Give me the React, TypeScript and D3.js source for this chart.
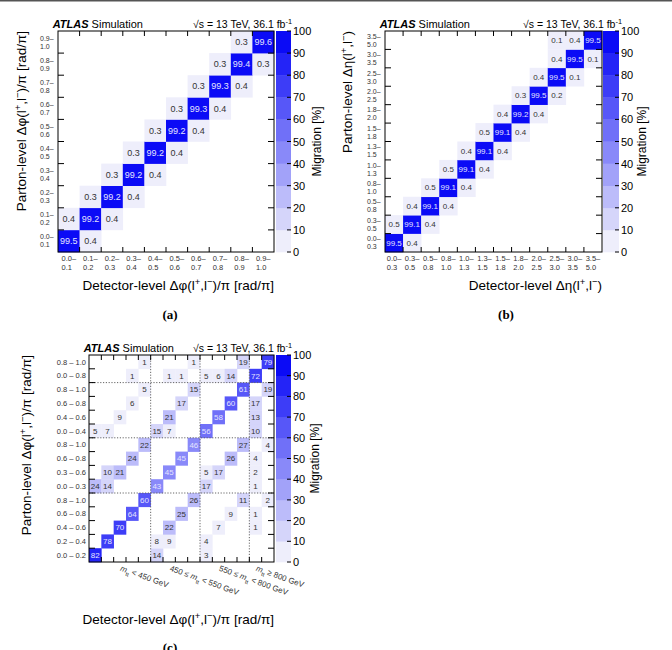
import { useEffect, useRef } from "react"
import * as d3 from "d3"

type Cell = [number, number, number] // [detector bin, parton bin, migration %]
type Part = [string, string?]

// (a) Δφ(l+,l-)/π bins
const phiBinsA = ["0.0–0.1", "0.1–0.2", "0.2–0.3", "0.3–0.4", "0.4–0.5", "0.5–0.6", "0.6–0.7", "0.7–0.8", "0.8–0.9", "0.9–1.0"]
const migrationA: Cell[] = [
  [0, 0, 99.5], [1, 0, 0.4],
  [0, 1, 0.4], [1, 1, 99.2], [2, 1, 0.4],
  [1, 2, 0.3], [2, 2, 99.2], [3, 2, 0.4],
  [2, 3, 0.3], [3, 3, 99.2], [4, 3, 0.4],
  [3, 4, 0.3], [4, 4, 99.2], [5, 4, 0.4],
  [4, 5, 0.3], [5, 5, 99.2], [6, 5, 0.4],
  [5, 6, 0.3], [6, 6, 99.3], [7, 6, 0.4],
  [6, 7, 0.3], [7, 7, 99.3], [8, 7, 0.4],
  [7, 8, 0.3], [8, 8, 99.4], [9, 8, 0.3],
  [8, 9, 0.3], [9, 9, 99.6],
]

// (b) Δη(l+,l-) bins
const etaBinsB = ["0.0–0.3", "0.3–0.5", "0.5–0.8", "0.8–1.0", "1.0–1.3", "1.3–1.5", "1.5–1.8", "1.8–2.0", "2.0–2.5", "2.5–3.0", "3.0–3.5", "3.5–5.0"]
const migrationB: Cell[] = [
  [0, 0, 99.5], [1, 0, 0.4],
  [0, 1, 0.5], [1, 1, 99.1], [2, 1, 0.4],
  [1, 2, 0.4], [2, 2, 99.1], [3, 2, 0.4],
  [2, 3, 0.5], [3, 3, 99.1], [4, 3, 0.4],
  [3, 4, 0.5], [4, 4, 99.1], [5, 4, 0.4],
  [4, 5, 0.4], [5, 5, 99.1], [6, 5, 0.4],
  [5, 6, 0.5], [6, 6, 99.1], [7, 6, 0.4],
  [6, 7, 0.4], [7, 7, 99.2], [8, 7, 0.4],
  [7, 8, 0.3], [8, 8, 99.5], [9, 8, 0.2],
  [8, 9, 0.4], [9, 9, 99.5], [10, 9, 0.1],
  [9, 10, 0.4], [10, 10, 99.5], [11, 10, 0.1],
  [9, 11, 0.1], [10, 11, 0.4], [11, 11, 99.5],
]

// (c) Δφ bins inside m_tt bins
const phiBinsC = [
  "0.0 – 0.2", "0.2 – 0.4", "0.4 – 0.6", "0.6 – 0.8", "0.8 – 1.0",
  "0.0 – 0.3", "0.3 – 0.6", "0.6 – 0.8", "0.8 – 1.0",
  "0.0 – 0.4", "0.4 – 0.6", "0.6 – 0.8", "0.8 – 1.0",
  "0.0 – 0.8", "0.8 – 1.0",
]
const massBinSizes = [5, 4, 4, 2]
const massLabels: Part[][] = [
  [["m", "it"], ["tt", "sub"], [" < 450 GeV"]],
  [["450 ≤ "], ["m", "it"], ["tt", "sub"], [" < 550 GeV"]],
  [["550 ≤ "], ["m", "it"], ["tt", "sub"], [" < 800 GeV"]],
  [["m", "it"], ["tt", "sub"], [" ≥ 800 GeV"]],
]
const migrationC: Cell[] = [
  [0, 0, 82], [5, 0, 14], [9, 0, 3],
  [1, 1, 78], [5, 1, 8], [6, 1, 9], [9, 1, 4],
  [2, 2, 70], [6, 2, 22], [10, 2, 7], [13, 2, 1],
  [3, 3, 64], [7, 3, 25], [11, 3, 9], [13, 3, 1],
  [4, 4, 60], [8, 4, 26], [12, 4, 11], [14, 4, 2],
  [0, 5, 24], [1, 5, 14], [5, 5, 43], [9, 5, 17], [13, 5, 1],
  [1, 6, 10], [2, 6, 21], [6, 6, 45], [9, 6, 5], [10, 6, 17], [13, 6, 2],
  [3, 7, 24], [7, 7, 45], [11, 7, 26], [13, 7, 4],
  [4, 8, 22], [8, 8, 46], [12, 8, 27], [14, 8, 4],
  [0, 9, 5], [1, 9, 7], [5, 9, 15], [6, 9, 7], [9, 9, 56], [13, 9, 10],
  [2, 10, 9], [6, 10, 21], [10, 10, 58], [13, 10, 13],
  [3, 11, 6], [7, 11, 17], [11, 11, 60], [13, 11, 17],
  [4, 12, 5], [8, 12, 15], [12, 12, 61], [14, 12, 19],
  [3, 13, 1], [6, 13, 1], [7, 13, 1], [9, 13, 5], [10, 13, 6], [11, 13, 14], [13, 13, 72],
  [4, 14, 1], [8, 14, 1], [12, 14, 19], [14, 14, 79],
]

const migrationTicks = d3.range(0, 101, 10)

const FONT = "'Liberation Sans', Arial, Helvetica, sans-serif"
const palette = d3.quantize(d3.interpolateRgb("#eeeefb", "#0b0bf6"), 10)
const colour = d3.scaleQuantize<string>().domain([0, 100]).range(palette)

function rich(text: any, parts: Part[]) {
  parts.forEach(([s, kind]) => {
    const t = text.append("tspan").text(s)
    if (kind === "sup") t.attr("baseline-shift", "super").attr("font-size", "70%")
    if (kind === "sub") t.attr("baseline-shift", "sub").attr("font-size", "70%")
    if (kind === "it") t.attr("font-style", "italic")
  })
}

function drawPanel(svg: any, p: any) {
  const g = svg.append("g").attr("font-family", FONT)
  const x = d3.scaleBand<number>().domain(d3.range(p.nx)).range([p.left, p.right])
  const y = d3.scaleBand<number>().domain(d3.range(p.ny)).range([p.bottom, p.top])
  const bw = x.bandwidth()
  const bh = y.bandwidth()

  // cells
  g.selectAll("rect.cell")
    .data(p.cells)
    .join("rect")
    .attr("x", (d: Cell) => x(d[0]))
    .attr("y", (d: Cell) => y(d[1]))
    .attr("width", bw + 0.3)
    .attr("height", bh + 0.3)
    .attr("fill", (d: Cell) => colour(d[2]))

  g.selectAll("text.cell")
    .data(p.cells)
    .join("text")
    .attr("x", (d: Cell) => x(d[0])! + bw / 2)
    .attr("y", (d: Cell) => y(d[1])! + bh / 2 + p.cellFont * 0.36)
    .attr("text-anchor", "middle")
    .attr("font-size", p.cellFont)
    .attr("fill", (d: Cell) => (d[2] >= 40 ? "#e4e4ff" : "#333"))
    .text((d: Cell) => p.fmt(d[2]))

  // dotted group separators
  if (p.groups) {
    const edges = d3.cumsum(p.groups).slice(0, -1) as unknown as number[]
    edges.forEach((e: number) => {
      g.append("line")
        .attr("x1", x(e)).attr("x2", x(e))
        .attr("y1", p.top).attr("y2", p.bottom)
        .attr("stroke", "#666").attr("stroke-dasharray", "1.2,1.6")
      g.append("line")
        .attr("x1", p.left).attr("x2", p.right)
        .attr("y1", y(e)! + bh).attr("y2", y(e)! + bh)
        .attr("stroke", "#666").attr("stroke-dasharray", "1.2,1.6")
    })
  }

  // frame + ticks
  g.append("rect")
    .attr("x", p.left).attr("y", p.top)
    .attr("width", p.right - p.left).attr("height", p.bottom - p.top)
    .attr("fill", "none").attr("stroke", "#000")
  d3.range(1, p.nx).forEach((i) => {
    const xx = p.left + i * bw
    g.append("line").attr("x1", xx).attr("x2", xx).attr("y1", p.bottom).attr("y2", p.bottom - 5).attr("stroke", "#000")
    g.append("line").attr("x1", xx).attr("x2", xx).attr("y1", p.top).attr("y2", p.top + 5).attr("stroke", "#000")
  })
  d3.range(1, p.ny).forEach((j) => {
    const yy = p.bottom - j * bh
    g.append("line").attr("x1", p.left).attr("x2", p.left + 6).attr("y1", yy).attr("y2", yy).attr("stroke", "#000")
    g.append("line").attr("x1", p.right).attr("x2", p.right - 6).attr("y1", yy).attr("y2", yy).attr("stroke", "#000")
  })

  // tick labels
  if (p.twoLine) {
    p.xLabels.forEach((lab: string, i: number) => {
      const [a, b] = lab.split("–")
      const t = g.append("text").attr("font-size", 7.5).attr("fill", "#333")
      const cx = x(i)! + bw / 2 - 7.3
      t.append("tspan").attr("x", cx).attr("y", p.bottom + 9).text(a + "–")
      t.append("tspan").attr("x", cx).attr("y", p.bottom + 18).text(b)
    })
    p.yLabels.forEach((lab: string, j: number) => {
      const [a, b] = lab.split("–")
      const cy = y(j)! + bh / 2
      const t = g.append("text").attr("font-size", 7).attr("fill", "#333")
      t.append("tspan").attr("x", p.left - 18).attr("y", cy - 1.5).text(a + "–")
      t.append("tspan").attr("x", p.left - 18).attr("y", cy + 6.5).text(b)
    })
  } else {
    p.yLabels.forEach((lab: string, j: number) => {
      g.append("text")
        .attr("x", p.left - 3)
        .attr("y", y(j)! + bh / 2 + 2.7)
        .attr("text-anchor", "end")
        .attr("font-size", 7.5)
        .attr("fill", "#333")
        .text(lab)
    })
    let offset = 0
    p.groups.forEach((n: number, k: number) => {
      const col = offset + Math.floor((n - 1) / 2)
      const sx = x(col)! + bw / 2
      const sy = p.bottom + 8.5
      const t = g.append("text")
        .attr("transform", `translate(${sx},${sy}) rotate(20)`)
        .attr("font-size", 8)
        .attr("fill", "#333")
      rich(t, p.groupLabels[k])
      offset += n
    })
  }

  // colour bar
  const z = d3.scaleLinear().domain([0, 100]).range([p.bottom, p.top])
  g.selectAll("rect.cb")
    .data(d3.range(0, 100, 10))
    .join("rect")
    .attr("x", p.cbLeft)
    .attr("y", (d: number) => z(d + 10))
    .attr("width", p.cbRight - p.cbLeft)
    .attr("height", (d: number) => z(d) - z(d + 10) + 0.3)
    .attr("fill", (d: number) => colour(d + 5))
  migrationTicks.forEach((t) => {
    g.append("line")
      .attr("x1", p.cbRight - 4).attr("x2", p.cbRight)
      .attr("y1", z(t)).attr("y2", z(t))
      .attr("stroke", "#000")
    g.append("text")
      .attr("x", p.cbRight + 2)
      .attr("y", z(t) + 4)
      .attr("font-size", 11)
      .text(t)
  })
  g.append("text")
    .attr("transform", `translate(${p.cbTitleX},${(p.top + p.bottom) / 2}) rotate(-90)`)
    .attr("text-anchor", "middle")
    .attr("font-size", 12)
    .text("Migration [%]")

  // header
  const h = g.append("text").attr("x", p.left - 5.3).attr("y", p.top - 2.7).attr("font-size", 11)
  h.append("tspan").attr("font-weight", "bold").attr("font-style", "italic").text("ATLAS")
  h.append("tspan").text(" Simulation")
  const l = g.append("text").attr("x", p.lumiX).attr("y", p.top - 2.7).attr("font-size", 10.5)
  rich(l, [["√s = 13 TeV, 36.1 fb"], ["-1", "sup"]])

  // axis titles
  const xt = g.append("text")
    .attr("x", p.right)
    .attr("y", p.xTitleY)
    .attr("text-anchor", "end")
    .attr("font-size", 13.5)
  rich(xt, p.xTitle)
  const yt = g.append("text")
    .attr("transform", `translate(${p.yTitleX},${p.top}) rotate(-90)`)
    .attr("text-anchor", "end")
    .attr("font-size", 13.5)
  rich(yt, p.yTitle)

  svg.append("text")
    .attr("x", p.tagX)
    .attr("y", p.tagY)
    .attr("text-anchor", "middle")
    .attr("font-family", "'Liberation Serif', 'Times New Roman', serif")
    .attr("font-weight", "bold")
    .attr("font-size", 13)
    .text(p.tag)
}

const phiTitle = (level: string): Part[] => [[`${level}-level Δφ(l`], ["+", "sup"], [",l"], ["−", "sup"], [")/π [rad/π]"]]
const etaTitle = (level: string): Part[] => [[`${level}-level Δη(l`], ["+", "sup"], [",l"], ["−", "sup"], [")"]]

export default function App() {
  const svgRef = useRef<SVGSVGElement>(null)

  useEffect(() => {
    if (!svgRef.current) return
    const svg = d3.select(svgRef.current)
    svg.selectAll("*").remove()

    svg.append("rect").attr("width", 672).attr("height", 650).attr("fill", "white")
    svg.append("rect").attr("width", 672).attr("height", 1.5).attr("fill", "#555")

    drawPanel(svg, {
      left: 58, right: 274, top: 31, bottom: 252, nx: 10, ny: 10,
      cells: migrationA, cellFont: 9, fmt: d3.format(".1f"),
      twoLine: true, xLabels: phiBinsA, yLabels: phiBinsA,
      cbLeft: 276, cbRight: 291, cbTitleX: 321, lumiX: 193,
      xTitle: phiTitle("Detector"), xTitleY: 290,
      yTitle: phiTitle("Parton"), yTitleX: 25.5,
      tag: "(a)", tagX: 170, tagY: 319,
    })

    drawPanel(svg, {
      left: 385, right: 602, top: 31, bottom: 252, nx: 12, ny: 12,
      cells: migrationB, cellFont: 8, fmt: d3.format(".1f"),
      twoLine: true, xLabels: etaBinsB, yLabels: etaBinsB,
      cbLeft: 603, cbRight: 619, cbTitleX: 646, lumiX: 523,
      xTitle: etaTitle("Detector"), xTitleY: 290,
      yTitle: etaTitle("Parton"), yTitleX: 352,
      tag: "(b)", tagX: 506, tagY: 319,
    })

    drawPanel(svg, {
      left: 89, right: 274, top: 355, bottom: 562, nx: 15, ny: 15,
      cells: migrationC, cellFont: 8, fmt: d3.format("d"),
      twoLine: false, yLabels: phiBinsC, groups: massBinSizes, groupLabels: massLabels,
      cbLeft: 276, cbRight: 291, cbTitleX: 319, lumiX: 193,
      xTitle: phiTitle("Detector"), xTitleY: 624,
      yTitle: phiTitle("Parton"), yTitleX: 30.5,
      tag: "(c)", tagX: 170, tagY: 652,
    })
  }, [])

  return (
    <svg
      ref={svgRef}
      width={672}
      height={650}
      style={{ position: "absolute", left: 0, top: 0 }}
    />
  )
}
